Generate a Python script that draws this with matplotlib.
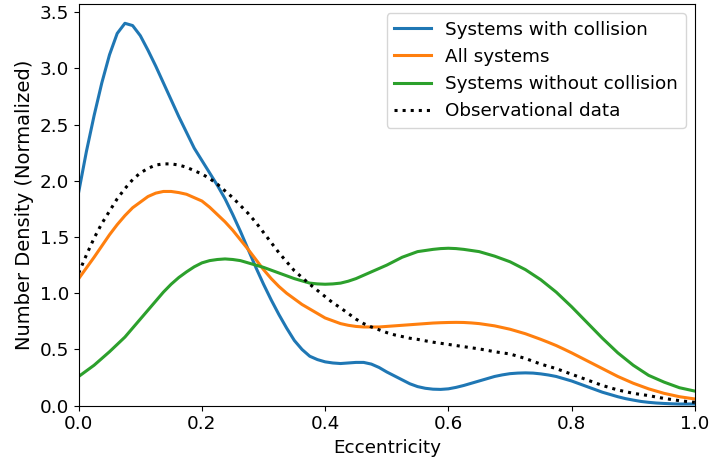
import numpy as np
import matplotlib
matplotlib.use("Agg")
import matplotlib.pyplot as plt

# eccentricity grid, step 0.0125
ecc = np.linspace(0, 1, 81)

with_collision = [
    1.90, 2.26, 2.58, 2.87, 3.12, 3.31, 3.40, 3.38, 3.29, 3.16,
    3.02, 2.87, 2.72, 2.57, 2.43, 2.29, 2.18, 2.07, 1.96, 1.84,
    1.70, 1.55, 1.39, 1.23, 1.08, 0.94, 0.81, 0.69, 0.58, 0.50,
    0.44, 0.41, 0.39, 0.38, 0.375, 0.38, 0.385, 0.385, 0.37, 0.34,
    0.30, 0.265, 0.23, 0.195, 0.17, 0.155, 0.147, 0.145, 0.15, 0.163,
    0.18, 0.20, 0.22, 0.24, 0.26, 0.274, 0.285, 0.29, 0.292, 0.29,
    0.283, 0.273, 0.26, 0.24, 0.22, 0.195, 0.17, 0.145, 0.12, 0.10,
    0.08, 0.063, 0.05, 0.038, 0.03, 0.024, 0.02, 0.017, 0.015, 0.015,
    0.015]
all_systems = [
    1.13, 1.225, 1.32, 1.42, 1.52, 1.61, 1.69, 1.76, 1.81, 1.86,
    1.89, 1.905, 1.905, 1.895, 1.88, 1.85, 1.82, 1.765, 1.70, 1.635,
    1.56, 1.475, 1.39, 1.30, 1.21, 1.13, 1.06, 1.00, 0.95, 0.90,
    0.86, 0.82, 0.78, 0.755, 0.73, 0.715, 0.705, 0.70, 0.70, 0.70,
    0.705, 0.71, 0.715, 0.72, 0.725, 0.73, 0.735, 0.738, 0.74, 0.741,
    0.74, 0.736, 0.73, 0.72, 0.71, 0.695, 0.68, 0.66, 0.64, 0.615,
    0.59, 0.563, 0.535, 0.503, 0.47, 0.435, 0.40, 0.365, 0.33, 0.295,
    0.26, 0.23, 0.20, 0.175, 0.15, 0.13, 0.11, 0.095, 0.08, 0.07,
    0.06]
without_collision = [
    0.26, 0.31, 0.36, 0.42, 0.48, 0.545, 0.61, 0.69, 0.77, 0.85,
    0.93, 1.01, 1.08, 1.14, 1.19, 1.235, 1.27, 1.29, 1.30, 1.305,
    1.30, 1.29, 1.27, 1.25, 1.23, 1.205, 1.18, 1.155, 1.13, 1.11,
    1.09, 1.083, 1.08, 1.083, 1.09, 1.107, 1.13, 1.16, 1.19, 1.22,
    1.25, 1.285, 1.32, 1.345, 1.37, 1.38, 1.39, 1.397, 1.40, 1.397,
    1.39, 1.38, 1.37, 1.35, 1.33, 1.305, 1.28, 1.245, 1.21, 1.165,
    1.12, 1.065, 1.01, 0.945, 0.88, 0.81, 0.74, 0.67, 0.60, 0.535,
    0.47, 0.415, 0.36, 0.315, 0.27, 0.24, 0.21, 0.185, 0.16, 0.145,
    0.13]
observed = [
    1.18, 1.34, 1.49, 1.62, 1.73, 1.84, 1.93, 2.01, 2.07, 2.11,
    2.14, 2.15, 2.15, 2.14, 2.12, 2.09, 2.06, 2.02, 1.97, 1.91,
    1.85, 1.78, 1.71, 1.63, 1.54, 1.45, 1.36, 1.28, 1.20, 1.14,
    1.08, 1.025, 0.97, 0.915, 0.87, 0.82, 0.77, 0.73, 0.70, 0.675,
    0.65, 0.63, 0.615, 0.60, 0.59, 0.577, 0.565, 0.555, 0.545, 0.535,
    0.525, 0.515, 0.505, 0.493, 0.48, 0.47, 0.46, 0.44, 0.42, 0.395,
    0.37, 0.35, 0.33, 0.305, 0.28, 0.255, 0.23, 0.205, 0.18, 0.16,
    0.14, 0.125, 0.11, 0.10, 0.09, 0.077, 0.065, 0.055, 0.045, 0.037,
    0.03]

plt.rcParams['font.size'] = 13.2

fig = plt.figure(figsize=(7.09, 4.65), dpi=100)
ax = fig.add_axes([0.111, 0.1275, 0.869, 0.8635])

ax.plot(ecc, with_collision, color='#1f77b4', lw=2.2, label='Systems with collision')
ax.plot(ecc, all_systems, color='#ff7f0e', lw=2.2, label='All systems')
ax.plot(ecc, without_collision, color='#2ca02c', lw=2.2, label='Systems without collision')
ax.plot(ecc, observed, color='black', lw=2.2, ls=':', label='Observational data')

ax.set_xlim(0, 1)
ax.set_ylim(0, 3.57)
ax.set_xlabel('Eccentricity')
ax.set_ylabel('Number Density (Normalized)', fontsize=14)
ax.legend(loc='upper right')

fig.savefig('out.png', dpi=100)
